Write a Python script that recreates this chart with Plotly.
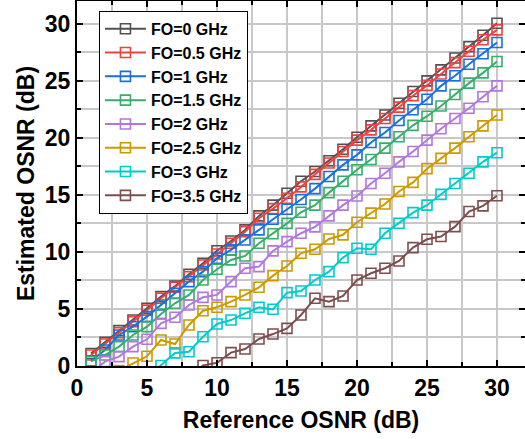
import plotly.graph_objects as go

x_ref = list(range(1, 31))

fo_labels = ["FO=0 GHz", "FO=0.5 GHz", "FO=1 GHz", "FO=1.5 GHz",
             "FO=2 GHz", "FO=2.5 GHz", "FO=3 GHz", "FO=3.5 GHz"]
colors = ["#515151", "#F14040", "#1A6FDF", "#37AD6B",
          "#B177DE", "#CC9900", "#00CBCC", "#7D4E4E"]

fo_0 = [1.1, 2.07, 3.1, 4.03, 5.06, 6.08, 7.0, 8.04, 9.0, 10.1, 10.96, 11.93, 13.16, 14.1, 15.15,
        16.2, 17.05, 18.0, 19.0, 20.06, 21.05, 22.0, 23.04, 24.06, 25.0, 25.96, 27.0, 28.0, 29.0, 30.05]
fo_05 = [0.96, 1.93, 2.92, 3.89, 4.9, 5.94, 6.9, 7.84, 8.86, 9.82, 10.76, 11.78, 12.96, 13.8, 14.7,
         15.7, 16.8, 17.8, 18.8, 19.8, 20.7, 21.7, 22.7, 23.7, 24.6, 25.6, 26.6, 27.6, 28.6, 29.47]
fo_1 = [0.45, 1.4, 2.72, 3.45, 4.33, 5.35, 6.37, 7.4, 8.27, 9.44, 10.18, 11.05, 11.93, 12.87, 13.74,
        14.6, 15.55, 16.61, 17.63, 18.51, 19.59, 20.47, 21.52, 22.46, 23.39, 24.56, 25.44, 26.46, 27.37, 28.36]
fo_15 = [0.4, 0.96, 1.7, 2.72, 3.45, 4.56, 5.5, 6.23, 7.54, 8.48, 9.3, 9.65, 10.76, 11.6, 12.5,
         13.48, 14.1, 15.2, 16.2, 17.2, 18.1, 19.1, 20.1, 21.1, 21.9, 22.8, 23.8, 24.8, 25.7, 26.7]
fo_2 = [-0.6, 0.38, 0.82, 1.7, 2.34, 3.74, 4.27, 5.35, 6.02, 6.23, 7.4, 8.57, 8.71, 10.09, 10.9,
        11.64, 12.2, 13.16, 14.1, 14.9, 16.0, 16.9, 17.9, 18.8, 19.8, 20.8, 21.7, 22.6, 23.6, 24.56]
fo_25 = [None, None, -0.4, 0.26, 0.85, 2.28, 1.93, 3.6, 4.85, 5.15, 5.64, 6.23, 6.9, 7.92, 8.77,
         9.88, 10.23, 11.14, 11.5, 12.6, 13.4, 14.2, 15.3, 16.1, 17.3, 18.2, 19.1, 20.1, 21.05, 22.0]
fo_3 = [None, None, None, None, -1.0, 0.05, 1.15, 1.25, 2.57, 3.68, 4.03, 4.62, 5.15, 4.97, 6.43,
        6.58, 7.54, 8.27, 9.5, 10.32, 10.23, 11.64, 12.51, 13.45, 14.1, 15.05, 16.0, 16.9, 17.9, 18.7]
fo_35 = [None, None, None, None, None, None, None, -1.0, 0.05, 0.29, 1.17, 1.49, 2.37, 2.8, 3.3,
         4.47, 5.94, 5.64, 6.14, 7.54, 8.13, 8.57, 9.21, 10.38, 11.11, 11.35, 12.22, 13.54, 14.04, 14.93]

series = [fo_0, fo_05, fo_1, fo_15, fo_2, fo_25, fo_3, fo_35]

x_ticks = [0, 5, 10, 15, 20, 25, 30]
y_ticks = [0, 5, 10, 15, 20, 25, 30]

FONT = "Liberation Sans"

fig = go.Figure()
for name, col, ys in zip(fo_labels, colors, series):
    fig.add_trace(go.Scatter(
        x=x_ref, y=ys, name=name, mode="lines+markers",
        line=dict(color=col, width=2),
        marker=dict(symbol="square-open", size=10, color=col, line=dict(width=1.6, color=col)),
        connectgaps=False,
    ))

axis_common = dict(
    showline=True, linecolor="black", linewidth=2, mirror="ticks",
    ticks="inside", ticklen=6, tickwidth=2, tickcolor="black",
    showgrid=True, gridcolor="#c8c8c8", gridwidth=2,
    zeroline=False, automargin=False,
    tickfont=dict(family=FONT, size=23, color="black", weight="bold"),
    minor=dict(dtick=2.5, showgrid=True, gridcolor="#c8c8c8", gridwidth=2,
               ticks="inside", ticklen=4, tickwidth=2, tickcolor="black"),
)

fig.update_xaxes(range=[0, 32], tickvals=x_ticks, dtick=5,
                 title=dict(text="Reference OSNR (dB)", standoff=12,
                            font=dict(family=FONT, size=23, color="black", weight="bold")),
                 **axis_common)
fig.update_yaxes(range=[0, 32], tickvals=y_ticks, dtick=5,
                 title=dict(text="Estimated OSNR (dB)", standoff=4,
                            font=dict(family=FONT, size=23, color="black", weight="bold")),
                 **axis_common)

fig.update_layout(
    width=525, height=439,
    margin=dict(l=77, r=0, t=1, b=73),
    plot_bgcolor="white", paper_bgcolor="white",
    legend=dict(x=0.049, y=0.973, xanchor="left", yanchor="top",
                bgcolor="white", bordercolor="black", borderwidth=1,
                font=dict(family=FONT, size=16, color="black", weight="bold"),
                itemwidth=41, tracegroupgap=0),
    showlegend=True,
)

fig.write_html("out.html", config={"displayModeBar": False},
               post_script="document.body.style.margin='0';document.body.style.overflow='hidden';")
